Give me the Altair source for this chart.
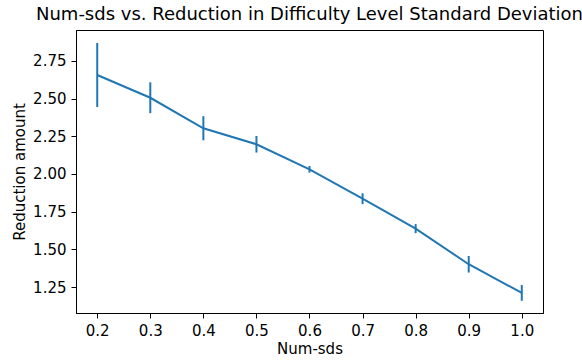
import altair as alt
import pandas as pd

# Mean reduction in difficulty-level standard deviation per num-sds setting
num_sds = [0.2, 0.3, 0.4, 0.5, 0.6, 0.7, 0.8, 0.9, 1.0]
reduction = [2.656, 2.505, 2.303, 2.197, 2.031, 1.836, 1.638, 1.402, 1.212]
err = [0.212, 0.102, 0.080, 0.055, 0.022, 0.036, 0.030, 0.055, 0.052]

df = pd.DataFrame({"num_sds": num_sds, "reduction": reduction, "err": err})
df["lo"] = df["reduction"] - df["err"]
df["hi"] = df["reduction"] + df["err"]

BLUE = "#1f77b4"
FONT = "DejaVu Sans"

x = alt.X(
    "num_sds:Q",
    scale=alt.Scale(domain=[0.16, 1.04], nice=False, zero=False),
    axis=alt.Axis(title="Num-sds", values=num_sds, format=".1f"),
)
y = alt.Y(
    "reduction:Q",
    scale=alt.Scale(domain=[1.079, 2.954], nice=False, zero=False),
    axis=alt.Axis(
        title="Reduction amount",
        values=[1.25, 1.5, 1.75, 2.0, 2.25, 2.5, 2.75],
        format=".2f",
    ),
)

line = alt.Chart(df).mark_line(color=BLUE, strokeWidth=2).encode(x=x, y=y)
bars = alt.Chart(df).mark_rule(color=BLUE, strokeWidth=2).encode(
    x="num_sds:Q", y="lo:Q", y2="hi:Q"
)

chart = (
    alt.layer(bars, line)
    .properties(
        width=467,
        height=283,
        title=alt.Title(
            "Num-sds vs. Reduction in Difficulty Level Standard Deviation",
            fontSize=18,
            font=FONT,
            fontWeight="normal",
            color="black",
            offset=6,
        ),
        autosize=alt.AutoSizeParams(type="none"),
        padding={"left": 76, "top": 30, "right": 39, "bottom": 50},
    )
    .configure_view(stroke="black", strokeWidth=1)
    .configure_axis(
        grid=False,
        domainColor="black",
        tickColor="black",
        tickSize=5,
        labelFont=FONT,
        labelFontSize=15,
        labelColor="black",
        titleFont=FONT,
        titleFontSize=15,
        titleFontWeight="normal",
        titleColor="black",
        labelPadding=5,
    )
    .configure_axisX(titlePadding=3)
    .configure_axisY(titlePadding=5)
)

chart.save("out.html", embed_options={"renderer": "svg", "actions": False})
